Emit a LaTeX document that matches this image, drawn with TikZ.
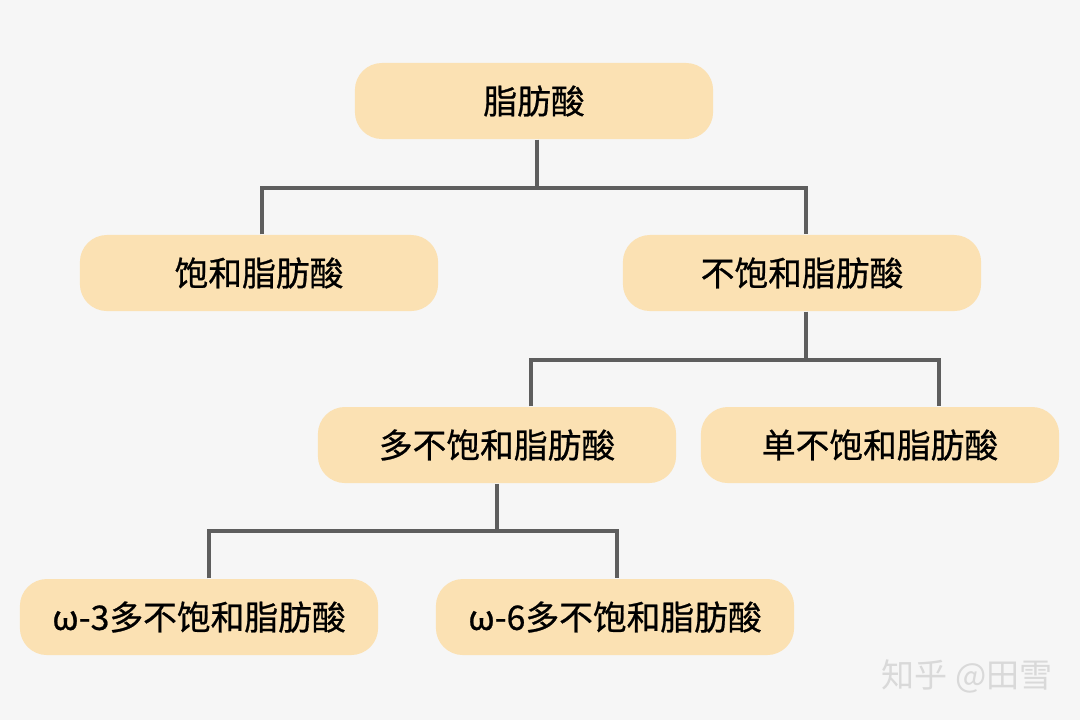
\documentclass[tikz,border=0pt]{standalone}
\usepackage{fontspec}
\setmainfont{Noto Sans CJK SC}
\newfontfamily\boxfont{Noto Sans CJK SC}[FakeBold=0.7]
\usetikzlibrary{positioning}
\definecolor{boxfill}{HTML}{FBE1B3}
\definecolor{bgcol}{HTML}{F6F6F6}
\definecolor{linkcol}{HTML}{5E5E5E}

\tikzset{
    acid/.style={fill=boxfill, rounded corners=0.27cm, minimum width=3.58cm,
        minimum height=0.76cm, inner sep=0pt, font=\boxfont\fontsize{9.6}{12}\selectfont},
    link/.style={draw=linkcol, line width=0.04cm}
}

\begin{document}
\begin{tikzpicture}[x=0.01cm, y=-0.01cm]

    \fill[bgcol] (0,0) rectangle (1080,720);
    \useasboundingbox (0,0) rectangle (1080,720);

    \node[acid] (fa)    at (534,101) {脂肪酸};
    \node[acid] (sat)   at (259,273) {饱和脂肪酸};
    \node[acid] (unsat) at (802,273) {不饱和脂肪酸};
    \node[acid] (poly)  at (497,445) {多不饱和脂肪酸};
    \node[acid] (mono)  at (880,445) {单不饱和脂肪酸};
    \node[acid] (w3)    at (199,617) {ω-3多不饱和脂肪酸};
    \node[acid] (w6)    at (615,617) {ω-6多不饱和脂肪酸};

    % bus lines between the levels
    \coordinate (bus1) at (537,188);
    \coordinate (bus2) at (806,360);
    \coordinate (bus3) at (497,531);

    \draw[link] (537,0 |- fa.south) -- (bus1);
    \draw[link] (262,0 |- sat.north) |- (bus1) -| (806,0 |- unsat.north);

    \draw[link] (806,0 |- unsat.south) -- (bus2);
    \draw[link] (531,0 |- poly.north) |- (bus2) -| (939,0 |- mono.north);

    \draw[link] (497,0 |- poly.south) -- (bus3);
    \draw[link] (209,0 |- w3.north) |- (bus3) -| (617,0 |- w6.north);

    \node[white!70!gray, font=\fontsize{9.4}{12}\selectfont] (mark) at (967,676) {知乎 @田雪};

\end{tikzpicture}
\end{document}
